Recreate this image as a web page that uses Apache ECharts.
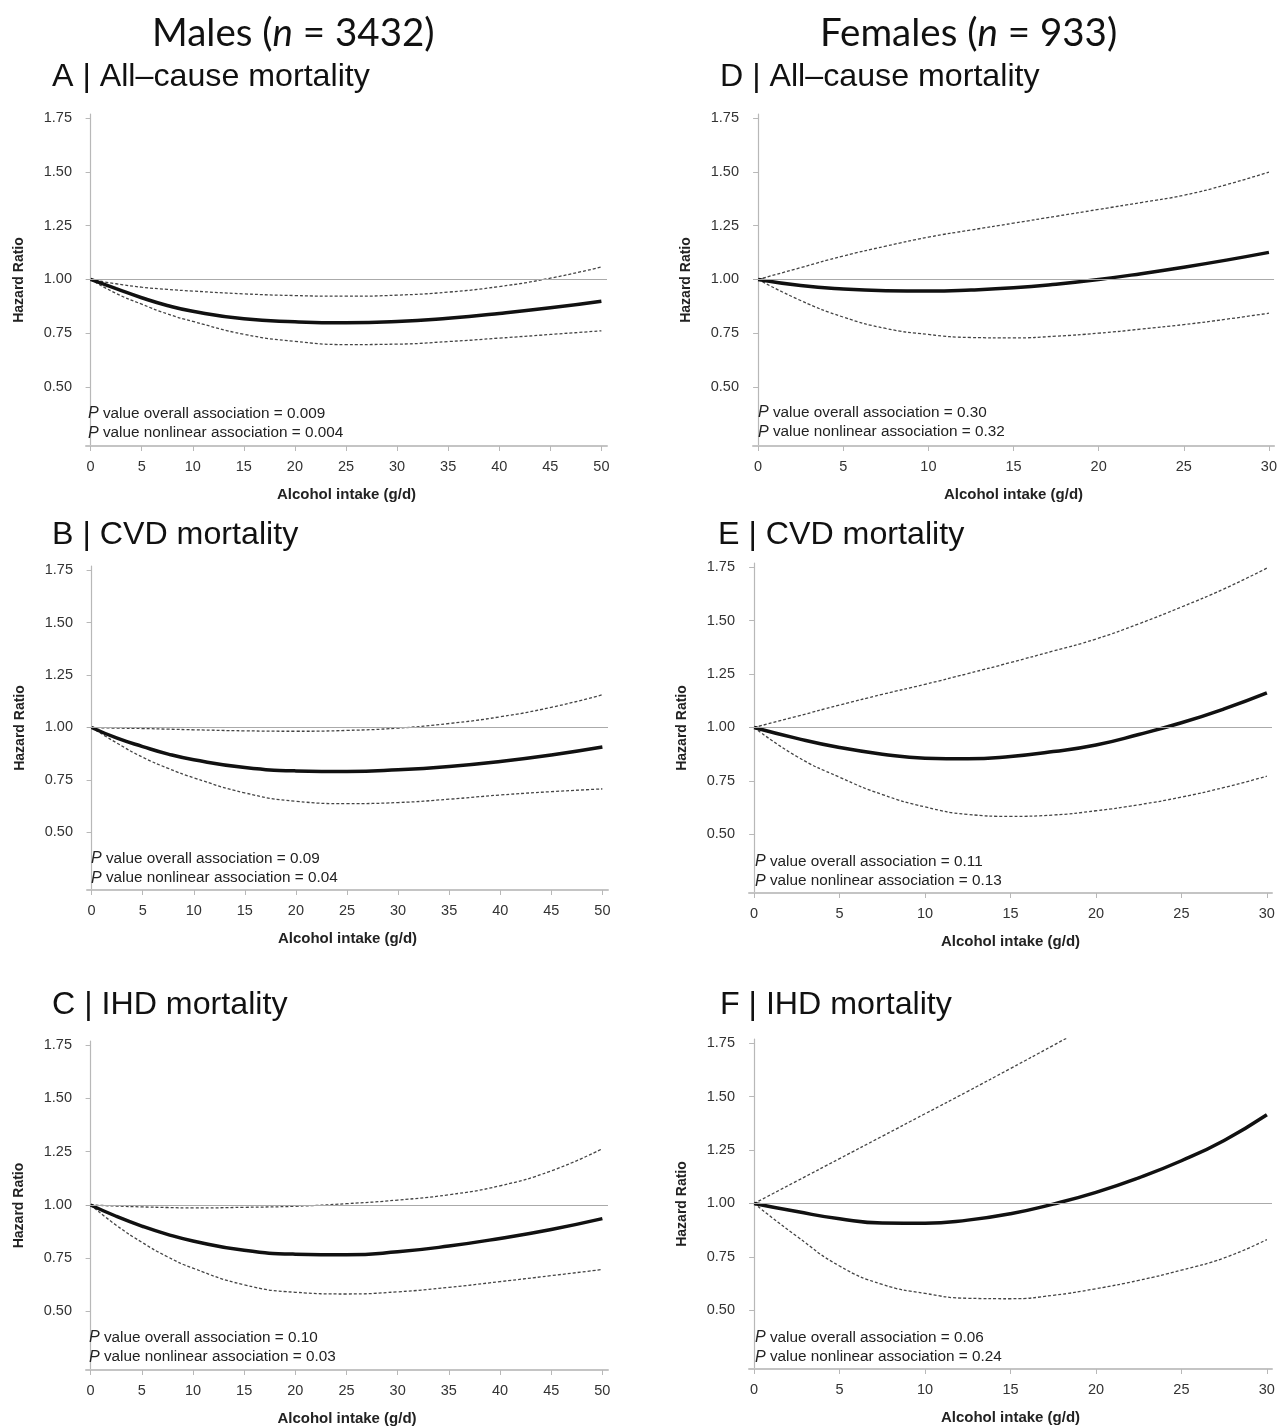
<!DOCTYPE html>
<html>
<head>
<meta charset="utf-8">
<script src="https://cdn.jsdelivr.net/npm/echarts@6/dist/echarts.min.js"></script>
<style>
  html, body { margin: 0; padding: 0; background: #fff; }
  #main { width: 1280px; height: 1427px; }
</style>
</head>
<body>
<div id="main"></div>
<script>
// x grids
var maleX = [0, 2.5, 5, 7.5, 10, 15, 20, 25, 30, 35, 40, 45, 50];
var femaleX = [0, 2.5, 5, 7.5, 10, 12.5, 15, 17.5, 20, 22.5, 25, 27.5, 30];
var yTicks = [0.5, 0.75, 1.0, 1.25, 1.5, 1.75];
var maleTicks = [0, 5, 10, 15, 20, 25, 30, 35, 40, 45, 50];
var femaleTicks = [0, 5, 10, 15, 20, 25, 30];

// A | all-cause, males
var aHr = [1.00, 0.957, 0.915, 0.879, 0.852, 0.817, 0.803, 0.798, 0.804, 0.820, 0.842, 0.868, 0.899];
var aHi = [1.00, 0.980, 0.964, 0.954, 0.946, 0.933, 0.925, 0.922, 0.927, 0.941, 0.967, 1.006, 1.058];
var aLo = [1.00, 0.935, 0.885, 0.840, 0.805, 0.745, 0.712, 0.697, 0.699, 0.711, 0.727, 0.744, 0.761];
// B | CVD, males
var bHr = [1.00, 0.949, 0.909, 0.873, 0.846, 0.809, 0.793, 0.790, 0.798, 0.814, 0.838, 0.869, 0.907];
var bHi = [1.00, 0.997, 0.995, 0.992, 0.989, 0.984, 0.982, 0.986, 0.997, 1.019, 1.051, 1.096, 1.156];
var bLo = [1.00, 0.925, 0.858, 0.805, 0.760, 0.688, 0.648, 0.637, 0.642, 0.658, 0.678, 0.694, 0.707];
// C | IHD, males
var cHr = [1.00, 0.947, 0.901, 0.862, 0.831, 0.787, 0.769, 0.766, 0.780, 0.807, 0.843, 0.885, 0.936];
var cHi = [1.00, 0.995, 0.991, 0.988, 0.986, 0.989, 0.994, 1.006, 1.023, 1.048, 1.090, 1.160, 1.264];
var cLo = [1.00, 0.905, 0.825, 0.757, 0.703, 0.625, 0.590, 0.582, 0.592, 0.613, 0.640, 0.668, 0.697];
// D | all-cause, females
var dHr = [1.00, 0.972, 0.956, 0.948, 0.946, 0.951, 0.961, 0.978, 1.000, 1.027, 1.057, 1.090, 1.126];
var dHi = [1.00, 1.055, 1.109, 1.155, 1.197, 1.230, 1.262, 1.294, 1.326, 1.358, 1.392, 1.441, 1.500];
var dLo = [1.00, 0.902, 0.825, 0.772, 0.744, 0.730, 0.728, 0.736, 0.750, 0.769, 0.790, 0.815, 0.843];
// E | CVD, females
var eHr = [1.00, 0.949, 0.906, 0.875, 0.856, 0.853, 0.864, 0.887, 0.918, 0.967, 1.022, 1.087, 1.162];
var eHi = [1.00, 1.052, 1.105, 1.155, 1.202, 1.252, 1.304, 1.358, 1.414, 1.485, 1.564, 1.649, 1.746];
var eLo = [1.00, 0.864, 0.767, 0.686, 0.628, 0.593, 0.584, 0.590, 0.610, 0.638, 0.674, 0.719, 0.772];
// F | IHD, females
var fHr = [1.00, 0.962, 0.928, 0.908, 0.907, 0.922, 0.952, 0.997, 1.052, 1.120, 1.200, 1.295, 1.415];
var fHi = [1.00, 1.105, 1.210, 1.315, 1.420, 1.525, 1.632, 1.740, 1.850, null, null, null, null];
var fLo = [1.00, 0.846, 0.707, 0.621, 0.579, 0.556, 0.554, 0.570, 0.601, 0.640, 0.688, 0.745, 0.831];

var pOverall = ['0.009', '0.09', '0.10', '0.30', '0.11', '0.06'];
var pNonlin = ['0.004', '0.04', '0.03', '0.32', '0.13', '0.24'];
var panelTitles = ['A | All\u2013cause mortality', 'B | CVD mortality', 'C | IHD mortality',
                   'D | All\u2013cause mortality', 'E | CVD mortality', 'F | IHD mortality'];

var FONT = '"Liberation Sans", Arial, Helvetica, sans-serif';
var HEAD_FONT = 'Lato, "Open Sans", sans-serif';

var panels = [
  { x: maleX, ticks: maleTicks, xr: [-0.45, 50.55], hr: aHr, hi: aHi, lo: aLo,
    grid: { left: 86, top: 114, width: 521, height: 332 }, title: [52, 61], p: [88, 403] },
  { x: maleX, ticks: maleTicks, xr: [-0.45, 50.55], hr: bHr, hi: bHi, lo: bLo,
    grid: { left: 87, top: 566, width: 521, height: 324 }, title: [52, 519], p: [91, 848] },
  { x: maleX, ticks: maleTicks, xr: [-0.45, 50.55], hr: cHr, hi: cHi, lo: cLo,
    grid: { left: 86, top: 1041, width: 522, height: 329 }, title: [52, 989], p: [89, 1327] },
  { x: femaleX, ticks: femaleTicks, xr: [-0.3, 30.3], hr: dHr, hi: dHi, lo: dLo,
    grid: { left: 753, top: 114, width: 522, height: 332 }, title: [720, 61], p: [758, 402] },
  { x: femaleX, ticks: femaleTicks, xr: [-0.3, 30.3], hr: eHr, hi: eHi, lo: eLo,
    grid: { left: 749, top: 563, width: 523, height: 330 }, title: [718, 519], p: [755, 851] },
  { x: femaleX, ticks: femaleTicks, xr: [-0.3, 30.3], hr: fHr, hi: fHi, lo: fLo,
    grid: { left: 749, top: 1039, width: 523, height: 330 }, title: [720, 989], p: [755, 1327] }
];

function pairs(xs, ys) {
  return xs.map(function (x, i) { return [x, ys[i]]; });
}

function header(text, left) {
  return {
    text: text, left: left, top: 14, padding: 0,
    textStyle: { fontFamily: HEAD_FONT, fontSize: 38.5, fontWeight: 'normal', color: '#111',
      rich: { i: { fontFamily: HEAD_FONT, fontSize: 38.5, fontStyle: 'italic', color: '#111' } } }
  };
}

var grids = [], xAxes = [], yAxes = [], series = [];
var titles = [header('Males ({i|n} = 3432)', 152), header('Females ({i|n} = 933)', 820)];

panels.forEach(function (p, k) {
  grids.push(p.grid);
  xAxes.push({
    type: 'value', gridIndex: k, min: p.xr[0], max: p.xr[1],
    name: 'Alcohol intake (g/d)', nameLocation: 'middle', nameGap: 41,
    nameTextStyle: { fontFamily: FONT, fontSize: 15, fontWeight: 'bold', color: '#222' },
    axisLine: { show: true, lineStyle: { color: '#c4c4c4', width: 2 } },
    axisTick: { show: true, length: 5, customValues: p.ticks, lineStyle: { color: '#b8b8b8' } },
    axisLabel: { customValues: p.ticks, fontFamily: FONT, fontSize: 14.5, color: '#333', margin: 13 },
    splitLine: { show: false }
  });
  yAxes.push({
    type: 'value', gridIndex: k, min: 0.225, max: 1.77,
    name: 'Hazard Ratio', nameLocation: 'middle', nameGap: 60,
    nameTextStyle: { fontFamily: FONT, fontSize: 14, fontWeight: 'bold', color: '#222' },
    axisLine: { show: true, lineStyle: { color: '#b8b8b8', width: 1.2 } },
    axisTick: { show: true, length: 5, customValues: yTicks, lineStyle: { color: '#b8b8b8' } },
    axisLabel: { customValues: yTicks, fontFamily: FONT, fontSize: 14.5, color: '#333', margin: 14,
      formatter: function (v) { return v.toFixed(2); } },
    splitLine: { show: false }
  });
  series.push({
    type: 'line', xAxisIndex: k, yAxisIndex: k, data: pairs(p.x, p.hi),
    smooth: 0.5, showSymbol: false, z: 3,
    lineStyle: { color: '#444', width: 1.3, type: [3, 2] }
  });
  series.push({
    type: 'line', xAxisIndex: k, yAxisIndex: k, data: pairs(p.x, p.lo),
    smooth: 0.5, showSymbol: false, z: 3,
    lineStyle: { color: '#444', width: 1.3, type: [3, 2] }
  });
  series.push({
    type: 'line', xAxisIndex: k, yAxisIndex: k, data: pairs(p.x, p.hr),
    smooth: 0.5, showSymbol: false, z: 4,
    lineStyle: { color: '#111', width: 3.5 },
    markLine: {
      silent: true, symbol: 'none', label: { show: false },
      lineStyle: { color: '#aaa', width: 1.2, type: 'solid' },
      data: [{ yAxis: 1 }]
    }
  });
  titles.push({
    text: panelTitles[k], left: p.title[0], top: p.title[1], padding: 0,
    textStyle: { fontFamily: FONT, fontSize: 32.2, fontWeight: 'normal', color: '#111' }
  });
  titles.push({
    text: '{i|P} value overall association = ' + pOverall[k] + '\n{i|P} value nonlinear association = ' + pNonlin[k],
    left: p.p[0], top: p.p[1] + 1, padding: 0,
    textStyle: { fontFamily: FONT, fontSize: 15.3, lineHeight: 19.5, fontWeight: 'normal', color: '#222',
      rich: { i: { fontFamily: FONT, fontSize: 16, fontStyle: 'italic', lineHeight: 19.5, color: '#222' } } }
  });
});

var chart = echarts.init(document.getElementById('main'), null, { renderer: 'canvas' });
chart.setOption({
  backgroundColor: '#fff',
  animation: false,
  title: titles,
  grid: grids,
  xAxis: xAxes,
  yAxis: yAxes,
  series: series
});
</script>
</body>
</html>
